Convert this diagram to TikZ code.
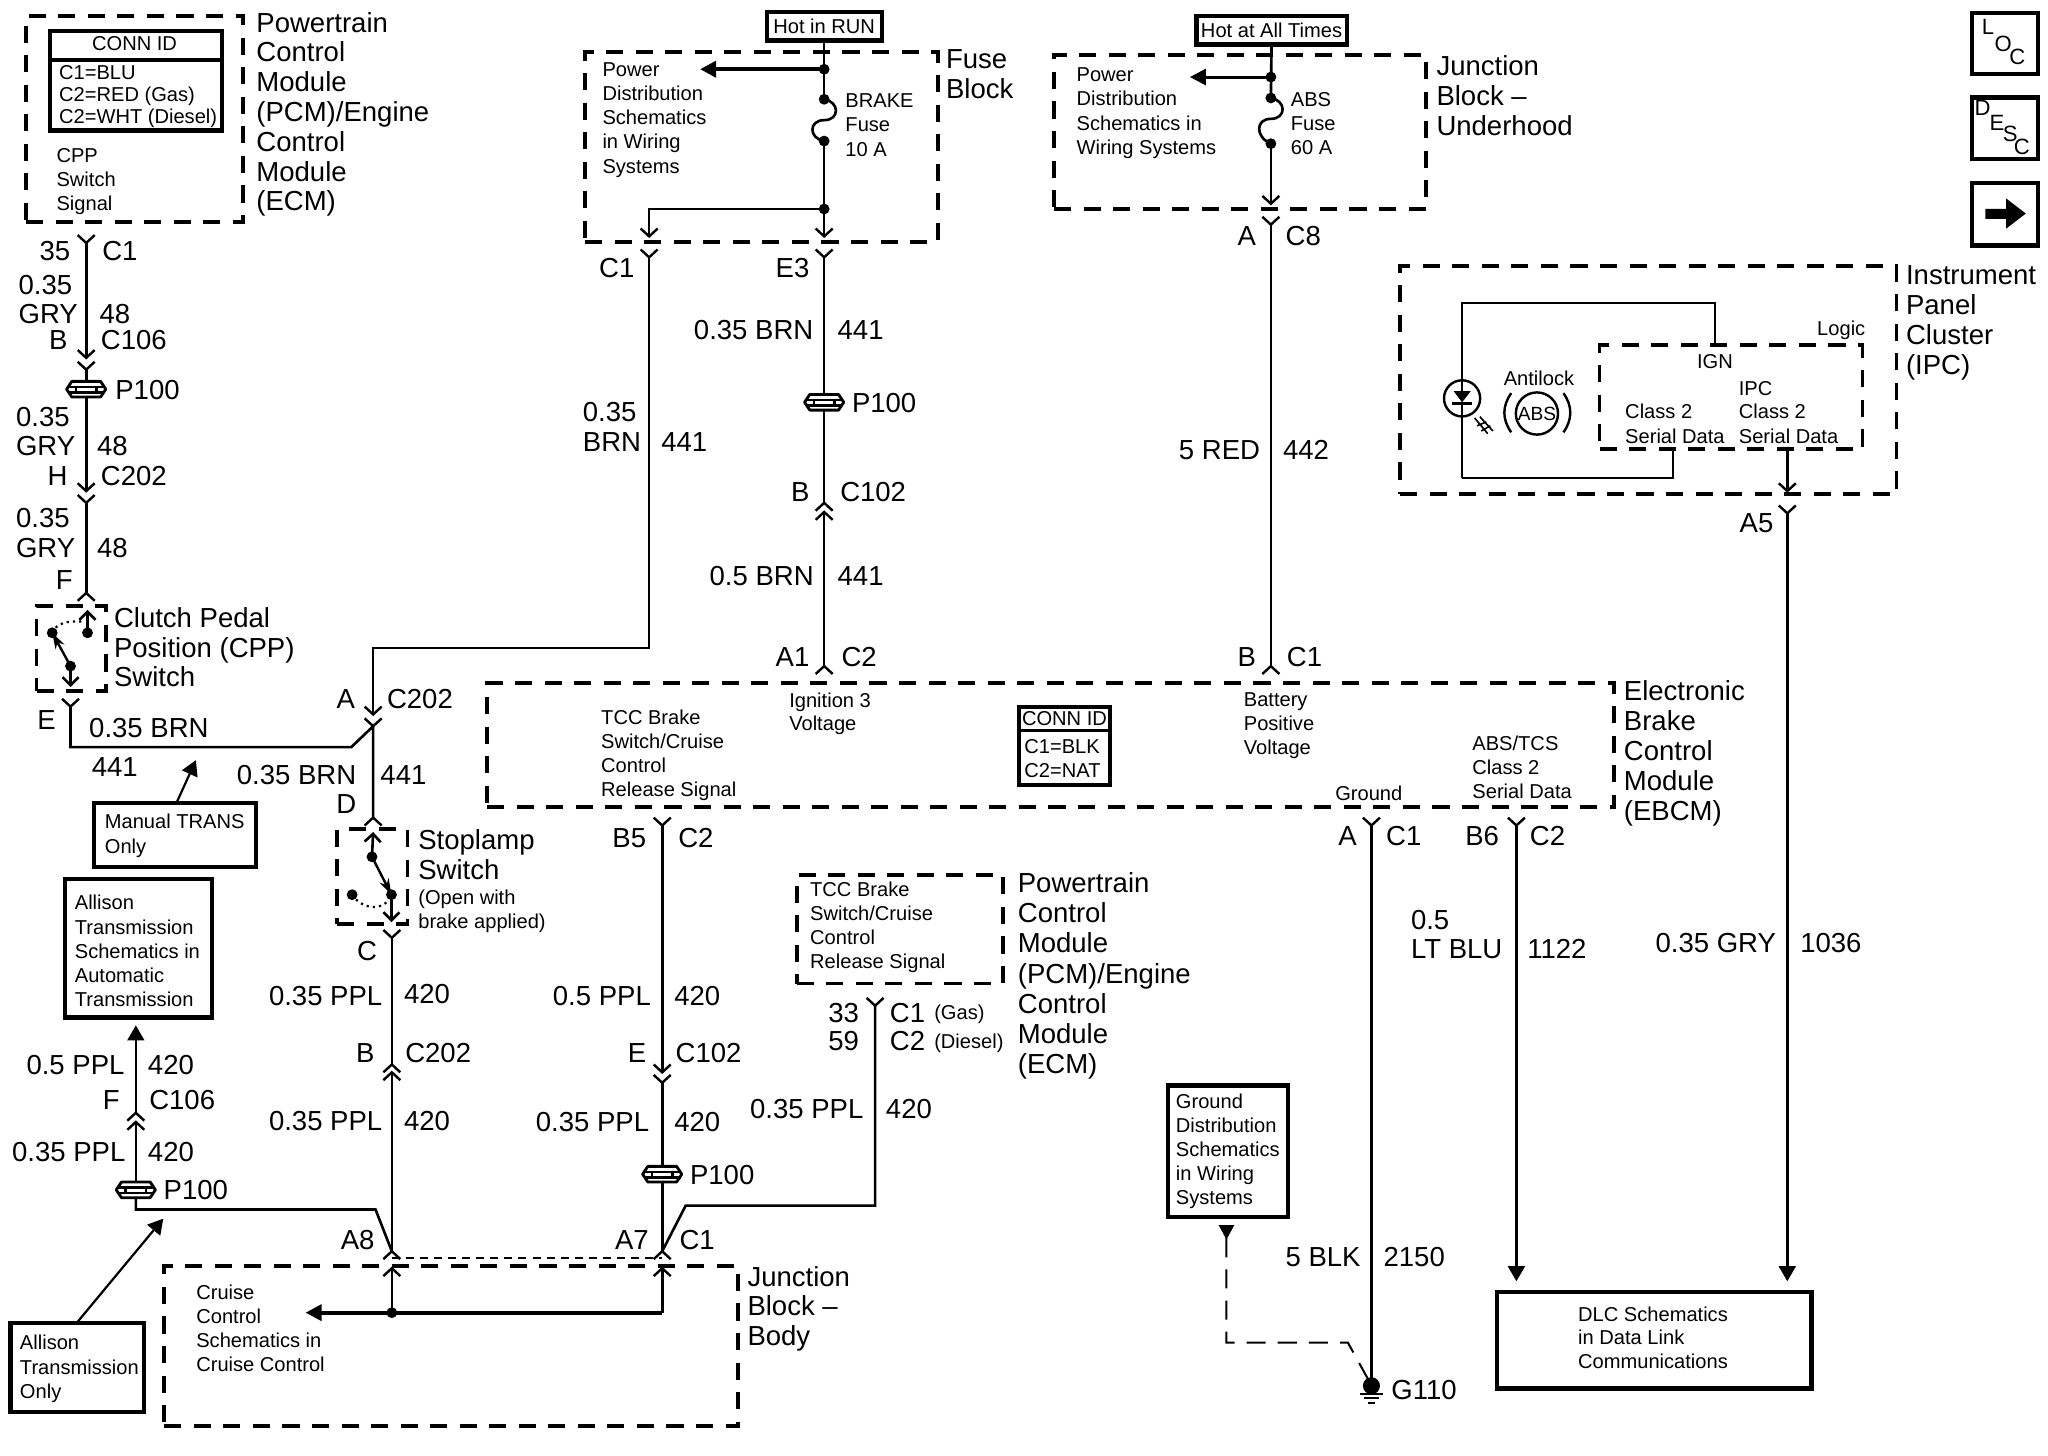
\documentclass[tikz,border=0pt]{standalone}
\usepackage{fontspec}
\setmainfont{Liberation Sans}
\usetikzlibrary{arrows.meta,fit}
\newcounter{tn}
\tikzset{
  x=0.65pt,y=-0.65pt,
  wire/.style={line width=1.3pt,line join=miter},
  chev/.style={line width=1.2pt},
  fatwire/.style={line width=1.9pt,-{Triangle[length=8pt,width=8pt]}},
  tipwire/.style={line width=1.3pt,-{Triangle[length=7.5pt,width=8.3pt]}},
  dbox/.style={draw,line width=1.9pt,dash pattern=on 8.5pt off 6.2pt,inner sep=0pt},
  sbox/.style={draw,line width=2.1pt,inner sep=0pt},
  dot/.style={circle,fill,inner sep=0pt,minimum size=5.4pt},
  big/.style={inner sep=0pt,font=\fontsize{13.7}{15}\selectfont,text height=9.9pt,text depth=0pt},
  small/.style={inner sep=0pt,font=\fontsize{10}{12}\selectfont,text height=7.2pt,text depth=0pt},
}
\newcommand{\tL}[3]{\stepcounter{tn}\node[big,anchor=west] (t\arabic{tn}) at (#1,#2) {#3};}
\newcommand{\tR}[3]{\stepcounter{tn}\node[big,anchor=east] (t\arabic{tn}) at (#1,#2) {#3};}
\newcommand{\sL}[3]{\stepcounter{tn}\node[small,anchor=west] (t\arabic{tn}) at (#1,#2) {#3};}
\newcommand{\bigstack}[4]{\foreach \tx [count=\i from 0] in {#4}{\node[big,anchor=west] (b#1#2-\i) at (#1,{#2+\i*#3}) {\tx};}}
\newcommand{\smallstack}[4]{\foreach \tx [count=\i from 0] in {#4}{\node[small,anchor=west] (s#1#2-\i) at (#1,{#2+\i*#3}) {\tx};}}
\newcommand{\chevD}[1]{\draw[chev] ([shift={(-6.5,-6)}]#1) -- (#1) -- ([shift={(6.5,-6)}]#1);}
\newcommand{\chevU}[1]{\draw[chev] ([shift={(-6.5,6)}]#1) -- (#1) -- ([shift={(6.5,6)}]#1);}
\newcommand{\splice}[1]{\begin{scope}[shift={(#1)}]
  \draw[line width=1.4pt,fill=white,line join=round] (-11,-6) -- (11,-6) -- (15,0) -- (11,6) -- (-11,6) -- (-15,0) -- cycle;
  \draw[line width=1.2pt] (-14,-1.8) -- (14,-1.8) (-14,2.4) -- (14,2.4) (-8,-1.8) -- (-8,2.4) (8,-1.8) -- (8,2.4);
  \end{scope}}
\newcommand{\fuse}[2]{\draw[wire] (#1) .. controls ([shift={(12,2)}]#1) and ([shift={(12,16)}]#1) .. ([shift={(0,16)}]#1) .. controls ([shift={(-12,16)}]#1) and ([shift={(-12,30)}]#1) .. (#2);
  \node[dot] at (#1) {}; \node[dot] at (#2) {};}
\begin{document}
\begin{tikzpicture}
\useasboundingbox (0,0) rectangle (1568,1114.75);
% ---------- boxes
\node[dbox,fit={(20,12)(186,170)}] (pcmtop) {};
\node[sbox,fit={(38,24)(170,100)}] (connA) {};
\node[dbox,fit={(448,40)(718,185)}] (fuseblk) {};
\node[sbox,fit={(587,9)(675,31)}] (hotrun) {};
\node[dbox,fit={(807,42)(1092,160)}] (jbu) {};
\node[sbox,fit={(916,12)(1031,34)}] (hotall) {};
\node[dbox,fit={(1072,203.5)(1452,378.5)}] (ipc) {};
\node[dbox,fit={(1224.6,264.4)(1426,344)}] (logic) {};
\node[dbox,fit={(373,523)(1236,618)}] (ebcm) {};
\node[sbox,fit={(780,541)(850,601)}] (connB) {};
\node[dbox,fit={(28,464)(81,529)}] (cpp) {};
\node[dbox,fit={(258,635)(312,707.6)}] (stop) {};
\node[dbox,fit={(610,670)(768,753)}] (pcmmid) {};
\node[dbox,fit={(125.8,969)(565,1092)}] (jbb) {};
\node[sbox,fit={(72,615)(196,664)}] (mtrans) {};
\node[sbox,fit={(50,673)(162.6,779)}] (allisonS) {};
\node[sbox,fit={(8,1013)(110.5,1081)}] (allisonO) {};
\node[sbox,fit={(894,831)(986,932)}] (gnd) {};
\node[sbox,line width=2.2pt,fit={(1146,989)(1387,1063)}] (dlc) {};
\node[sbox,fit={(1510,10)(1560.6,56.7)}] (loc) {};
\node[sbox,fit={(1510,74.7)(1560.6,122)}] (desc) {};
\node[sbox,fit={(1510,140)(1560.6,188)}] (next) {};
\draw[line width=1.6pt] (connA.west |- 0,46) -- (connA.east |- 0,46);
\draw[line width=1.6pt] (connB.west |- 0,559) -- (connB.east |- 0,559);
% ---------- named points
\foreach \n/\x/\y in {
 a1/66/186,a2/66/274,a3/66/283,sp1/66/298,a4/66/376,a5/66/385,a6/66/454,
 e1/54/541,e2/54/572,e3/269/572,e4/285.7/556,e5/285.7/626,e6/285.7/547,e7/285.7/496,
 f1/497/197,f2/497/181,f3/497/160,f4/631/160,f5/631/181,f6/631/197,sp2/631/308,f7/631/385,f8/631/392,f9/631/510,
 f10/631/53,f11/631/76,f12/631/108,f13/536/53,
 g1/973/59,g2/973/75,g3/973/110,g4/973/156,g5/973/172,g6/973/510,g7/911/59,
 h1/300/718,h2/300/815,h3/300/821,h4/300/958,h5/300/971,h6/300/1005,
 i1/104/859,i2/104/852,i3/104/785,sp3/104/911,i4/104/926,i5/287.5/926,
 j1/507/632,j2/507/821,j3/507/829,sp4/507/899,j4/507/958,j5/507/971,j6/507/1005,j7/234/1005,
 k1/670/770,k2/670/923,k3/525/923,
 l1/1050/632,l2/1050/1061,
 m1/1161/632,m2/1161/981,
 n1/1368.4/344,n2/1368.4/376,n3/1368.4/393,n4/1368.4/981,
 o1/1119.4/232,o2/1313/232,o3/1119.4/366,o4/1281/366,
 q1/939/948,q2/939/1028,q3/1032/1028,q4/1048/1057,
 r1/300/963,r2/507/963}
 {\coordinate (\n) at (\x,\y);}
% ---------- wires
\draw[wire] (a1) -- (a2); \chevD{a1} \chevD{a2}
\chevD{a3} \draw[wire] (a3) -- (a4); \chevD{a4}
\chevD{a5} \draw[wire] (a5) -- (a6); \chevU{a6}
\splice{sp1}
\chevD{e1} \draw[wire] (e1) -- (e2) -- (e3) -- (e4) -- (e5); \chevU{e5}
\draw[wire] (f1) |- (e7) -- (e6); \chevD{e6} \chevD{e4} \chevD{f1}
\draw[wire] (hotrun.south) -- (f11);
\draw[fatwire] (f10) -- (f13);
\node[dot] at (f10) {};
\fuse{f11}{f12}
\draw[wire] (f12) -- (f5); \chevD{f5}
\draw[wire] (f4) -| (f2); \chevD{f2} \node[dot] at (f4) {};
\chevD{f6} \draw[wire] (f6) -- (f7); \chevU{f7}
\chevU{f8} \draw[wire] (f8) -- (f9); \chevU{f9}
\splice{sp2}
\draw[wire] (hotall.south) -- (g2);
\draw[fatwire,line width=1.5pt] (g1) -- (g7);
\node[dot] at (g1) {};
\fuse{g2}{g3}
\draw[wire] (g3) -- (g4); \chevD{g4}
\chevD{g5} \draw[wire] (g5) -- (g6); \chevU{g6}
\chevD{h1} \draw[wire] (h1) -- (h2); \chevU{h2}
\chevU{h3} \draw[wire] (h3) -- (h4); \chevU{h4}
\draw[wire] (sp3) -- (i4) -- (i5) -- (h4);
\draw[wire] (h6) -- (h5); \chevU{h5}
\draw[wire] (sp3) -- (i1); \chevU{i1} \chevU{i2}
\draw[tipwire] (i2) -- (i3);
\splice{sp3}
\chevD{j1} \draw[wire] (j1) -- (j2); \chevD{j2}
\chevD{j3} \draw[wire] (j3) -- (j4); \chevU{j4}
\splice{sp4}
\draw[wire] (j6) -- (j5); \chevU{j5}
\draw[fatwire] (j6) -- (j7); \node[dot] at (h6) {};
\chevD{k1} \draw[wire] (k1) -- (k2) -- (k3) -- (j4);
\draw[line width=1pt,dash pattern=on 4pt off 3pt] (r1) -- (r2);
\chevD{l1} \draw[wire] (l1) -- (l2);
\chevD{m1} \draw[tipwire] (m1) -- (m2);
\draw[wire] (n1) -- (n2); \chevD{n2}
\chevD{n3} \draw[tipwire] (n3) -- (n4);
% ---------- ground
\node[circle,fill,inner sep=0pt,minimum size=8.5pt] (g110) at (l2) {};
\draw[line width=1pt] (1041,1067.4) -- (1059,1067.4) (1044,1070.7) -- (1056,1070.7) (1047,1074) -- (1053,1074);
\draw[line width=1pt,dash pattern=on 9.5pt off 6pt] (q1) -- (q2) -- (q3) -- (q4);
\fill (933,938) -- (945,938) -- (939,949) -- cycle;
% ---------- callout arrows
\draw[tipwire,line width=1.1pt] (135,615) -- (150,582);
\draw[tipwire,line width=1.1pt] (58.6,1013) -- (125,933);
% ---------- CPP switch
\coordinate (c1) at (67,484.5); \coordinate (c2) at (40,484.5); \coordinate (c3) at (54,510);
\coordinate (c4) at (67,467); \coordinate (c5) at (54,526);
\draw[line width=1.3pt,-{Straight Barb[length=4pt,width=8pt]}] (c1) -- (c4);
\draw[line width=1.3pt,-{Straight Barb[length=4pt,width=8pt]}] (c3) -- (c5);
\draw[line width=1.2pt,-{Stealth[length=8pt,width=5pt]}] (c3) -- (c2);
\draw[line width=1.1pt,dotted] (c2) .. controls (43,477) and (52,475) .. (63,476);
\node[dot] at (c1) {}; \node[dot] at (c2) {}; \node[dot] at (c3) {};
% ---------- stoplamp switch
\coordinate (d1) at (284.8,656); \coordinate (d2) at (299.7,685); \coordinate (d3) at (269.6,685);
\coordinate (d4) at (285.7,637); \coordinate (d5) at (299.7,706);
\draw[line width=1.3pt,-{Straight Barb[length=4pt,width=8pt]}] (d1) -- (d4);
\draw[line width=1.3pt,-{Straight Barb[length=4pt,width=8pt]}] (d2) -- (d5);
\draw[line width=1.2pt,-{Stealth[length=8pt,width=5pt]}] (d1) -- (d2);
\draw[line width=1.1pt,dotted] (d3) .. controls (277,696) and (290,697) .. (297,690);
\node[dot] at (d1) {}; \node[dot] at (d2) {}; \node[dot] at (d3) {};
% ---------- IPC interior
\draw[wire] (o3) -- (o1) -- (o2) -- (o2 |- logic.north);
\draw[wire] (o3) -- (o4) -- (o4 |- logic.south);
\node[circle,draw,line width=1.2pt,fill=white,minimum size=18pt,inner sep=0pt] (lamp) at (1119.4,305) {};
\fill (1113,299.5) -- (1126,299.5) -- (1119.4,308) -- cycle;
\draw[line width=1.2pt] (1112,309) -- (1127,309);
\draw[wire] (lamp.north) -- (1119.4,300) (1119.4,309) -- (lamp.south);
\draw[line width=.8pt] (1129,320) -- (1139,332) (1133,319) -- (1143,330) (1131,326) -- (1138,323) (1134,330) -- (1141,326);
\node[circle,draw,line width=1.2pt,inner sep=0pt,minimum size=21pt,font=\fontsize{9.5}{10}\selectfont] (abs) at (1176.7,316.6) {ABS};
\draw[line width=1.2pt] (1157,301) .. controls (1150,311) and (1150,321) .. (1157,331);
\draw[line width=1.2pt] (1197,301) .. controls (1204,311) and (1204,321) .. (1197,331);
% ---------- arrow glyph
\fill (1520,160) -- (1536,160) -- (1536,152) -- (1551,163.5) -- (1536,175) -- (1536,167.5) -- (1520,167.5) -- cycle;
% ---------- LOC/DESC letters
\node[small,font=\fontsize{11}{12}\selectfont] (lL) at (1522,21) {L};
\node[small,font=\fontsize{11}{12}\selectfont] (lO) at (1533.7,33.8) {O};
\node[small,font=\fontsize{11}{12}\selectfont] (lC) at (1544.5,43.5) {C};
\node[small,font=\fontsize{11}{12}\selectfont] (dD) at (1518,83) {D};
\node[small,font=\fontsize{11}{12}\selectfont] (dE) at (1529,94.5) {E};
\node[small,font=\fontsize{11}{12}\selectfont] (dS) at (1539,103) {S};
\node[small,font=\fontsize{11}{12}\selectfont] (dC) at (1548,113) {C};
% ---------- big stacked labels
\bigstack{196}{17}{22.8}{Powertrain,Control,Module,{(PCM)/Engine},Control,Module,{(ECM)}}
\bigstack{724}{45}{22.5}{Fuse,Block}
\bigstack{1099.5}{50}{23}{Junction,Block --,Underhood}
\bigstack{1459}{210}{23}{Instrument,Panel,Cluster,{(IPC)}}
\bigstack{1243}{529}{22.8}{Electronic,Brake,Control,Module,{(EBCM)}}
\bigstack{87}{473}{22.5}{Clutch Pedal,Position (CPP),Switch}
\bigstack{320}{643}{23}{Stoplamp,Switch}
\bigstack{779}{676}{23}{Powertrain,Control,Module,{(PCM)/Engine},Control,Module,{(ECM)}}
\bigstack{572}{977}{22.7}{Junction,Block --,Body}
% ---------- small stacked labels
\node[small,anchor=center] (ca) at (103,33) {CONN ID};
\smallstack{45}{55}{17}{C1=BLU,C2=RED (Gas),C2=WHT (Diesel)}
\smallstack{43}{119}{18.5}{CPP,Switch,Signal}
\smallstack{461}{53}{18.5}{Power,Distribution,Schematics,in Wiring,Systems}
\smallstack{647}{77}{18.5}{BRAKE,Fuse,10 A}
\smallstack{824}{57}{18.5}{Power,Distribution,Schematics in,Wiring Systems}
\smallstack{988}{76}{18.5}{ABS,Fuse,60 A}
\smallstack{460}{549}{18.4}{TCC Brake,Switch/Cruise,Control,Release Signal}
\smallstack{604}{536}{18}{Ignition 3,Voltage}
\node[small,anchor=center] (cb) at (815,550) {CONN ID};
\smallstack{784}{571.5}{18.5}{C1=BLK,C2=NAT}
\smallstack{952}{535}{18.5}{Battery,Positive,Voltage}
\smallstack{1127}{569}{18.5}{ABS/TCS,Class 2,Serial Data}
\sL{1022}{607}{Ground}
\sL{1151}{289.7}{Antilock}
\sL{1391}{251}{Logic}
\node[small,anchor=center] (ign) at (1313,276.5) {IGN};
\sL{1331}{297}{IPC}
\smallstack{1244}{315}{19}{Class 2,Serial Data}
\smallstack{1331}{315}{19}{Class 2,Serial Data}
\smallstack{80}{629}{19}{Manual TRANS,Only}
\smallstack{57}{691}{18.6}{Allison,Transmission,Schematics in,Automatic,Transmission}
\smallstack{15}{1028}{18.5}{Allison,Transmission,Only}
\smallstack{150}{989}{18.4}{Cruise,Control,Schematics in,Cruise Control}
\smallstack{620}{681}{18.4}{TCC Brake,Switch/Cruise,Control,Release Signal}
\smallstack{320}{687}{18}{{(Open with},{brake applied)}}
\smallstack{900}{843}{18.5}{Ground,Distribution,Schematics,in Wiring,Systems}
\smallstack{1208}{1006}{18.2}{DLC Schematics,in Data Link,Communications}
\node[small,anchor=center] (hr) at (hotrun) {Hot in RUN};
\node[small,anchor=center] (ha) at (hotall) {Hot at All Times};
\sL{715}{775}{(Gas)}
\sL{715}{797}{(Diesel)}
% ---------- wire labels
\tR{54}{192}{35} \tL{78}{192}{C1}
\tL{14}{218}{0.35} \tL{14}{240}{GRY} \tL{76}{240}{48}
\tR{52}{260}{B} \tL{77}{260}{C106}
\tL{88}{298}{P100}
\tL{12}{319}{0.35} \tL{12}{341}{GRY} \tL{74}{341}{48}
\tR{52}{364}{H} \tL{77}{364}{C202}
\tL{12}{396}{0.35} \tL{12}{419}{GRY} \tL{74}{419}{48}
\tR{56}{444}{F}
\tR{43}{551}{E} \tL{68}{557}{0.35 BRN} \tL{70}{587}{441}
\tR{272}{535}{A} \tL{296}{535}{C202}
\tR{273}{593}{0.35 BRN} \tL{291}{593}{441} \tR{273}{615}{D}
\tR{289}{728}{C}
\tR{293}{762}{0.35 PPL} \tL{309}{761}{420}
\tR{287}{806}{B} \tL{310}{806}{C202}
\tR{293}{858}{0.35 PPL} \tL{309}{858}{420}
\tL{20}{815}{0.5 PPL} \tL{113}{815}{420}
\tR{92}{842}{F} \tL{114}{842}{C106}
\tL{9}{882}{0.35 PPL} \tL{113}{882}{420}
\tL{125}{911}{P100}
\tR{287}{949}{A8} \tR{497}{949}{A7} \tL{520}{949}{C1}
\tR{486}{205}{C1} \tR{620}{205}{E3}
\tL{446}{315}{0.35} \tL{446}{338}{BRN} \tL{506}{338}{441}
\tL{531}{252}{0.35 BRN} \tL{641}{252}{441}
\tL{652}{308}{P100}
\tR{620}{376}{B} \tL{643}{376}{C102}
\tL{543}{441}{0.5 BRN} \tL{641}{441}{441}
\tR{620}{503}{A1} \tL{644}{503}{C2}
\tR{962}{180}{A} \tL{984}{180}{C8}
\tR{965}{344}{5 RED} \tL{982}{344}{442}
\tR{962}{503}{B} \tL{985}{503}{C1}
\tR{495}{641}{B5} \tL{519}{641}{C2}
\tL{423}{762}{0.5 PPL} \tL{516}{762}{420}
\tR{495}{806}{E} \tL{517}{806}{C102}
\tL{410}{859}{0.35 PPL} \tL{516}{859}{420}
\tL{528}{899}{P100}
\tR{658}{775}{33} \tL{681}{775}{C1}
\tR{658}{797}{59} \tL{681}{797}{C2}
\tL{574}{849}{0.35 PPL} \tL{678}{849}{420}
\tR{1039}{640}{A} \tL{1061}{640}{C1}
\tR{1148}{640}{B6} \tL{1171}{640}{C2}
\tL{1080}{704}{0.5} \tL{1080}{726}{LT BLU} \tL{1169}{726}{1122}
\tR{1358}{400}{A5}
\tR{1360}{722}{0.35 GRY} \tL{1378}{722}{1036}
\tR{1042}{962}{5 BLK} \tL{1059}{962}{2150}
\tL{1065}{1064}{G110}
\end{tikzpicture}
\end{document}
